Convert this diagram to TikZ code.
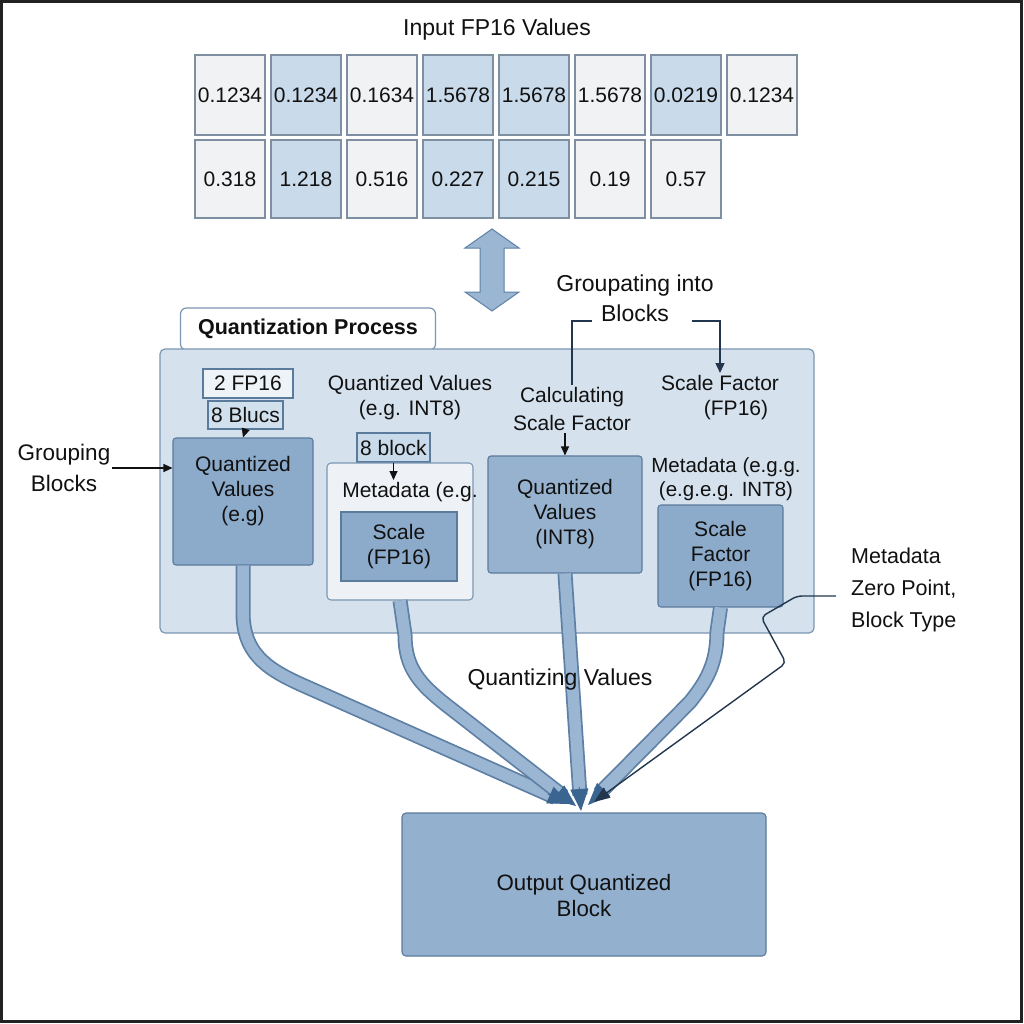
\documentclass[tikz,border=0pt]{standalone}
\usepackage{fontspec}
\setmainfont{Liberation Sans}
\usetikzlibrary{arrows.meta,calc}
\definecolor{ink}{HTML}{111111}
\definecolor{cw}{HTML}{F1F2F4}
\definecolor{cb}{HTML}{C9DAEA}
\definecolor{cellbd}{HTML}{7E8FA2}
\definecolor{panelc}{HTML}{D5E2EE}
\definecolor{panelbd}{HTML}{7B96B1}
\definecolor{midc}{HTML}{8CAACA}
\definecolor{midbd}{HTML}{5B7B9C}
\definecolor{bandc}{HTML}{9AB6D3}
\definecolor{bandbd}{HTML}{5E80A5}
\definecolor{tipc}{HTML}{3B6591}
\definecolor{outc}{HTML}{93B0CE}
\definecolor{whitebox}{HTML}{EEF2F6}
\definecolor{frame}{HTML}{222222}
\definecolor{linec}{HTML}{22364D}
\begin{document}
\begin{tikzpicture}[x=1pt,y=-1pt,
  fs/.style={font=\fontsize{21}{25}\selectfont},
  txt/.style={fs, text=ink, align=center, inner sep=2pt},
  cellw/.style={draw=cellbd, line width=1.2pt, fill=cw, minimum width=70pt, minimum height=80pt, inner sep=0pt, fs, text=ink},
  cellb/.style={cellw, fill=cb},
  cellwb/.style={cellw, minimum height=78pt},
  cellbb/.style={cellb, minimum height=78pt},
  smallbox/.style={draw=midbd, line width=1.1pt, inner sep=0pt, fs, text=ink},
  midbox/.style={draw=midbd, line width=1.1pt, fill=midc, rounded corners=3pt, inner sep=0pt, fs, text=ink, align=center},
  sarrow/.style={draw=ink, line width=1.1pt, -{Triangle[length=9pt,width=8pt]}},
  band/.style={draw=bandbd, line width=15pt, shorten >=16pt, line join=round, postaction={draw=bandc, line width=11.5pt, shorten >=16pt}},
  tipa/.style={draw=tipc, fill=tipc, line width=0.8pt, -{Triangle[length=22pt,width=18pt]}}
]
\useasboundingbox (0,0) rectangle (1024,1024);
\fill[white] (0,0) rectangle (1024,1024);
\draw[frame, line width=2.5pt] (1.5,1.5) rectangle (1021.5,1021.5);

% title and grid
\node[txt, font=\fontsize{23}{27}\selectfont] (title) at (497,30) {Input FP16 Values};
\node[cellw] (a1) at (230,95) {0.1234};
\node[cellb] (a2) at (306,95) {0.1234};
\node[cellw] (a3) at (382,95) {0.1634};
\node[cellb] (a4) at (458,95) {1.5678};
\node[cellb] (a5) at (534,95) {1.5678};
\node[cellw] (a6) at (610,95) {1.5678};
\node[cellb] (a7) at (686,95) {0.0219};
\node[cellw] (a8) at (762,95) {0.1234};
\node[cellwb] (b1) at (230,179) {0.318};
\node[cellbb] (b2) at (306,179) {1.218};
\node[cellwb] (b3) at (382,179) {0.516};
\node[cellbb] (b4) at (458,179) {0.227};
\node[cellbb] (b5) at (534,179) {0.215};
\node[cellwb] (b6) at (610,179) {0.19};
\node[cellwb] (b7) at (686,179) {0.57};

% double arrow
\draw[fill=bandc, draw=bandbd, line width=1pt, line join=miter]
  (492,229) -- (519,248) -- (504,248) -- (504,292) -- (519,292) -- (492,311)
  -- (465,292) -- (480,292) -- (480,248) -- (465,248) -- cycle;

% tab and panel
\node[draw=panelbd, line width=1.2pt, fill=white, rounded corners=6pt, minimum width=255pt, minimum height=42pt, inner sep=0pt,
      font=\bfseries\fontsize{21.5}{25}\selectfont, text=ink] (tab) at (308,329) {Quantization Process};
\node[draw=panelbd, line width=1.2pt, fill=panelc, rounded corners=5pt, minimum width=654pt, minimum height=284pt, inner sep=0pt] (panel) at (487,491) {};

% grouping into blocks label and bracket
\node[txt, inner sep=1pt, font=\fontsize{23}{30}\selectfont] (grpb) at (635,298) {Groupating into\\Blocks};
\coordinate (bl) at (592,321);
\coordinate (br) at (692,321);

% left column
\node[smallbox, fill=white!60!panelc, minimum width=90pt, minimum height=29pt] (fp) at (248,383.5) {2 FP16};
\node[smallbox, fill=cb!85!white, minimum width=75pt, minimum height=28pt] (blucs) at (245.5,415) {8 Blucs};
\node[midbox, minimum width=140pt, minimum height=127pt] (qv) at (243,501.5) {};
\node[txt] (qvl) at (243,491) {Quantized\\Values\\(e.g)};
\draw[sarrow] (blucs.south) -- (qv.north);
\node[txt, font=\fontsize{22.5}{31}\selectfont] (grp) at (64,468) {Grouping\\Blocks};
\draw[sarrow] (grp.east) -- (grp.east -| qv.west);

% middle column
\node[txt] (qvt) at (410,398) {Quantized Values\\(e.g. INT8)};
\node[smallbox, fill=cb, minimum width=73pt, minimum height=29pt] (blk) at (393.5,447.5) {8 block};
\node[draw=panelbd, line width=1.1pt, fill=whitebox, rounded corners=4pt, minimum width=146pt, minimum height=137pt, inner sep=0pt] (wb) at (400,531.5) {};
\node[txt] (mdt) at (410,492) {Metadata (e.g.};
\node[midbox, rounded corners=0pt, minimum width=116pt, minimum height=69pt] (sc) at (399,546.5) {Scale\\(FP16)};
\draw[sarrow] (blk.south) -- (blk.south |- mdt.north);

% third column
\node[txt, font=\fontsize{21}{28}\selectfont] (calc) at (572,409) {Calculating\\Scale Factor};
\node[midbox, fill=midc!90!white, minimum width=154pt, minimum height=117pt] (qvi) at (565,514.5) {Quantized\\Values\\(INT8)};
\draw[sarrow] (qvi.north |- calc.south) -- (qvi.north);
\draw[draw=linec, line width=1.3pt] (bl) -| (calc.north);

% fourth column
\node[txt] (sft) at (720,397.5) {Scale Factor\\\hspace*{32pt}(FP16)};
\draw[draw=linec, line width=1.3pt, -{Triangle[length=10pt,width=9pt]}] (br) -| (sft.north);
\node[txt, font=\fontsize{20.5}{24}\selectfont] (mdt2) at (726,479) {Metadata (e.g.g.\\(e.g.e.g. INT8)};
\node[midbox, minimum width=125pt, minimum height=102pt] (sfb) at (720.5,556) {Scale\\Factor\\(FP16)};

% metadata label
\node[txt, align=left, anchor=west, font=\fontsize{21.5}{32}\selectfont] (meta) at (849,590) {Metadata\\Zero Point,\\Block Type};

% output block
\node[draw=midbd, line width=1.1pt, fill=outc, rounded corners=4pt, minimum width=364pt, minimum height=143pt, inner sep=0pt] (out) at (584,884.5) {};
\node[txt, font=\fontsize{22.3}{26}\selectfont] (outl) at (584,896) {Output Quantized\\Block};

% flow bands
\coordinate (t1) at (570,804);
\coordinate (t2) at (576,806);
\coordinate (t3) at (581,811);
\coordinate (t4) at (588,805);
\coordinate (t5) at (594,802);
\coordinate (m1) at (836,596);
\coordinate (p1) at (300,684);
\coordinate (p2) at (445,704);
\coordinate (p3) at (572,690);
\coordinate (p4) at (690,702);

\draw[band] (qv.south) -- (243,612) .. controls (243,652) and (265,668) .. (p1) -- (t1);
\draw[band] (wb.south) -- (405,635) .. controls (405,668) and (420,684) .. (p2) -- (t2);
\draw[band] (qvi.south) -- (t3);
\draw[band] (sfb.south) -- (717,632) .. controls (717,664) and (706,682) .. (p4) -- (t4);
\draw[tipa] ($(t1)!24pt!(p1)$) -- (t1);
\draw[tipa] ($(t2)!24pt!(p2)$) -- (t2);
\draw[tipa] ($(t3)!24pt!(p3)$) -- (t3);
\draw[tipa] ($(t4)!24pt!(p4)$) -- (t4);
\node[txt, font=\fontsize{23}{27}\selectfont] (qz) at (560,680) {Quantizing Values};
\draw[draw=linec, line width=1.4pt, rounded corners=5pt, -{Triangle[length=16pt,width=12pt]}]
  (m1) -- (797,596) -- (761,617) -- (786,663) -- (t5);
\end{tikzpicture}
\end{document}
